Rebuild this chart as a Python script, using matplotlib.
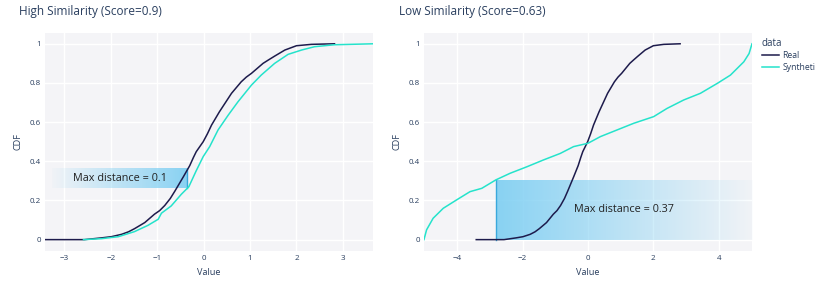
import numpy as np
import matplotlib.pyplot as plt
from matplotlib.lines import Line2D

plt.rcParams['font.family'] = ['Open Sans', 'DejaVu Sans']

# empirical CDF of the real data (same in both panels)
real_x = [-3.42, -2.57, -2.20, -1.99, -1.77, -1.62, -1.49, -1.27, -1.06, -0.95, -0.84,
          -0.72, -0.62, -0.44, -0.30, -0.22, -0.16, -0.01, 0.08, 0.17, 0.34, 0.47,
          0.60, 0.81, 0.92, 1.03, 1.28, 1.40, 1.53, 1.75, 2.00, 2.32, 2.82]
real_y = [0.0, 0.0, 0.009, 0.015, 0.027, 0.04, 0.056, 0.087, 0.13, 0.148, 0.174,
          0.21, 0.248, 0.32, 0.378, 0.42, 0.449, 0.50, 0.54, 0.585, 0.653, 0.70,
          0.747, 0.806, 0.83, 0.849, 0.90, 0.918, 0.937, 0.968, 0.99, 0.997, 1.0]

# synthetic data, high similarity
synth_hi_x = [-2.59, -2.20, -1.84, -1.49, -1.20, -0.98, -0.91, -0.70, -0.48, -0.32,
              -0.16, -0.01, 0.13, 0.31, 0.53, 0.74, 1.03, 1.24, 1.53, 1.82, 2.11,
              2.39, 2.82, 3.67]
synth_hi_y = [0.0, 0.005, 0.015, 0.041, 0.073, 0.104, 0.135, 0.172, 0.232, 0.27,
              0.352, 0.424, 0.475, 0.56, 0.636, 0.704, 0.789, 0.84, 0.90, 0.946,
              0.968, 0.985, 0.995, 1.0]

# synthetic data, low similarity
synth_lo_x = [-5.02, -4.94, -4.74, -4.43, -4.02, -3.61, -3.25, -2.82, -2.38, -1.87,
              -1.36, -0.85, -0.44, 0.0, 0.38, 0.89, 1.40, 2.01, 2.42, 2.93, 3.44,
              3.96, 4.36, 4.77, 4.93, 5.02]
synth_lo_y = [0.0, 0.05, 0.109, 0.16, 0.203, 0.245, 0.262, 0.305, 0.339, 0.372,
              0.407, 0.44, 0.475, 0.492, 0.526, 0.56, 0.594, 0.628, 0.67, 0.713,
              0.747, 0.798, 0.84, 0.908, 0.95, 1.0]

titles = ["High Similarity (Score=0.9)", "Low Similarity (Score=0.63)"]
labels = ["Max distance = 0.1", "Max distance = 0.37"]
# highlighted box: x0, x1, y0, y1, where the max distance is
boxes = [(-3.27, -0.35, 0.262, 0.36), (-2.82, 5.02, 0.0, 0.305)]
xlims = [(-3.42, 3.65), (-5.02, 5.02)]
xticks = [[-3, -2, -1, 0, 1, 2, 3], [-4, -2, 0, 2, 4]]

real_c = '#1d1b4c'
synth_c = '#25e3cb'
text_c = '#2a3f5f'
box_rgb = (0.49, 0.81, 0.95)

fig = plt.figure(figsize=(8.15, 2.83), dpi=100)
axes = [fig.add_axes([0.0552, 0.1131, 0.4025, 0.7703]),
        fig.add_axes([0.5202, 0.1131, 0.4025, 0.7703])]
synths = [(synth_hi_x, synth_hi_y), (synth_lo_x, synth_lo_y)]

for i, ax in enumerate(axes):
    ax.set_facecolor('#f4f4f7')
    for s in ax.spines.values():
        s.set_visible(False)
    ax.grid(True, color='white', lw=1.0)
    ax.set_axisbelow(True)

    # gradient box
    x0, x1, y0, y1 = boxes[i]
    alpha = np.linspace(0.03, 0.9, 200)
    if i == 1:
        alpha = alpha[::-1]
    grad = np.zeros((1, 200, 4))
    grad[0, :, :3] = box_rgb
    grad[0, :, 3] = alpha
    ax.imshow(grad, extent=[x0, x1, y0, y1], aspect='auto', zorder=1,
              interpolation='bilinear')
    vx = x1 if i == 0 else x0
    ax.plot([vx, vx], [y0, y1], color='#3aa8dc', lw=1.0, zorder=2)
    ax.text((x0 + x1) / 2, (y0 + y1) / 2, labels[i], ha='center', va='center',
            fontsize=7.8, color='#222222', zorder=4)

    ax.plot(real_x, real_y, color=real_c, lw=1.1, zorder=3)
    ax.plot(synths[i][0], synths[i][1], color=synth_c, lw=1.1, zorder=3)

    ax.set_xlim(*xlims[i])
    ax.set_ylim(-0.058, 1.055)
    ax.set_xticks(xticks[i])
    ax.set_yticks([0, 0.2, 0.4, 0.6, 0.8, 1])
    ax.set_yticklabels(['0', '0.2', '0.4', '0.6', '0.8', '1'])
    ax.tick_params(length=0, labelsize=5.8, colors=text_c, pad=3)
    ax.set_xlabel('Value', fontsize=6.6, color=text_c, labelpad=4)
    ax.set_ylabel('CDF', fontsize=6.6, color=text_c, labelpad=5)

fig.text(19 / 815, 1 - 12 / 283, titles[0], fontsize=8.5, color=text_c, va='center')
fig.text(399 / 815, 1 - 12 / 283, titles[1], fontsize=8.5, color=text_c, va='center')

handles = [Line2D([], [], color=real_c, lw=1.1), Line2D([], [], color=synth_c, lw=1.1)]
fig.legend(handles, ['Real', 'Synthetic'], title='data', loc='upper left',
           bbox_to_anchor=(754 / 815, 1 - 30 / 283), frameon=False, fontsize=6.2,
           title_fontsize=7, handlelength=2.0, handletextpad=0.4, labelspacing=0.3,
           alignment='left', labelcolor=text_c)
fig.legends[0].get_title().set_color(text_c)

plt.savefig('out.png', dpi=100)
